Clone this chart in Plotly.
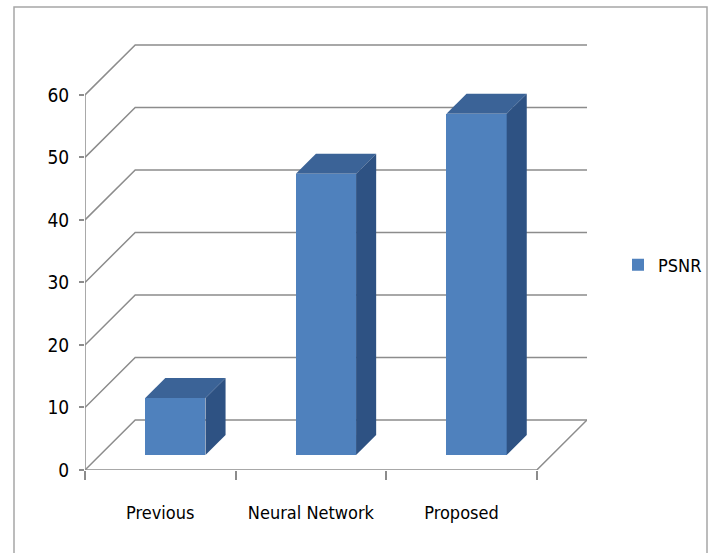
import plotly.graph_objects as go

# ---- data ----
categories = ["Previous", "Neural Network", "Proposed"]
psnr = [9.1, 45.0, 54.6]
y_ticks = [0, 10, 20, 30, 40, 50, 60]
series_name = "PSNR"

# ---- 3D projection parameters (in data units) ----
W, H = 713, 553
ML, MR, MT, MB = 85, 126, 43, 83
DEPTH_X = 1 / 3          # full floor depth, x direction (category units)
DEPTH_Y = 8.0            # full floor depth, y direction (value units)
YMAX = 60
BAR_W = 0.4
BAR_D0, BAR_D1 = 0.3, 0.7  # bar front/back depth fraction

FRONT = "#4F81BD"
TOP = "#3B6397"
SIDE = "#2E5283"
GRID = "#8C8C8C"

n = len(categories)
xmax = n + DEPTH_X
ymax = YMAX + DEPTH_Y + 0.3

fig = go.Figure()

# front faces of bars through the library's bar trace
fx = [i + 0.5 + BAR_D0 * DEPTH_X for i in range(n)]
base = BAR_D0 * DEPTH_Y
fig.add_trace(go.Bar(
    x=fx, y=psnr, base=base, width=BAR_W, name=series_name,
    marker=dict(color=FRONT, line=dict(width=0)),
    showlegend=True,
))

shapes = []
# back wall gridlines + side-wall diagonals
for v in y_ticks:
    shapes.append(dict(type="path", layer="below",
                       path=f"M 0 {v} L {DEPTH_X} {v + DEPTH_Y} L {xmax} {v + DEPTH_Y}",
                       line=dict(color=GRID, width=1.5)))
# front y axis line
shapes.append(dict(type="line", layer="below", x0=0, y0=0, x1=0, y1=YMAX,
                   line=dict(color=GRID, width=1.5)))
# floor front edge and right edge
shapes.append(dict(type="path", layer="below",
                   path=f"M 0 0 L {n} 0 L {xmax} {DEPTH_Y}",
                   line=dict(color=GRID, width=1.5)))

# top & side faces of the bars
dd = (BAR_D1 - BAR_D0)
for i, v in enumerate(psnr):
    x0 = fx[i] - BAR_W / 2
    x1 = fx[i] + BAR_W / 2
    top = base + v
    ddx = dd * DEPTH_X
    ddy = dd * DEPTH_Y
    shapes.append(dict(type="path", layer="above",
                       path=f"M {x0} {top} L {x1} {top} L {x1 + ddx} {top + ddy} L {x0 + ddx} {top + ddy} Z",
                       fillcolor=TOP, line=dict(width=0)))
    shapes.append(dict(type="path", layer="above",
                       path=f"M {x1} {base} L {x1} {top} L {x1 + ddx} {top + ddy} L {x1 + ddx} {base + ddy} Z",
                       fillcolor=SIDE, line=dict(width=0)))

# outer chart border
pw, ph = W - ML - MR, H - MT - MB
shapes.append(dict(type="rect", xref="paper", yref="paper",
                   x0=(14 - ML) / pw, x1=(707 - ML) / pw,
                   y0=(H - MB - 600) / ph, y1=(H - MB - 7) / ph,
                   line=dict(color="#A6A6A6", width=1.5), fillcolor="rgba(0,0,0,0)"))

FONT = "DejaVu Sans Condensed, Liberation Sans Narrow, Arial Narrow, sans-serif"

fig.update_layout(
    width=W, height=H,
    margin=dict(l=ML, r=MR, t=MT, b=MB, autoexpand=False),
    paper_bgcolor="white", plot_bgcolor="white",
    shapes=shapes,
    font=dict(family=FONT, color="#000000", size=18),
    xaxis=dict(
        range=[0, xmax], showgrid=False, zeroline=False, showline=False,
        tickmode="array", tickvals=[i + 0.5 for i in range(n)], ticktext=categories,
        ticks="", tickfont=dict(size=18), ticklabelstandoff=30,
        minor=dict(tickmode="array", tickvals=list(range(n + 1)), ticks="outside",
                   ticklen=9, tickcolor=GRID, tickwidth=1.5, showgrid=False),
        fixedrange=True,
    ),
    yaxis=dict(
        range=[0, ymax], showgrid=False, zeroline=False, showline=False,
        tickmode="array", tickvals=y_ticks, ticks="outside", ticklen=5,
        tickcolor=GRID, tickwidth=1.5, tickfont=dict(size=19), ticklabelstandoff=6,
        fixedrange=True,
    ),
    legend=dict(x=(618 - ML) / pw, y=(H - MB - 265) / ph, xanchor="left", yanchor="middle",
                font=dict(size=18), bgcolor="rgba(0,0,0,0)", itemwidth=30),
    bargap=0,
)

fig.write_html("out.html")
